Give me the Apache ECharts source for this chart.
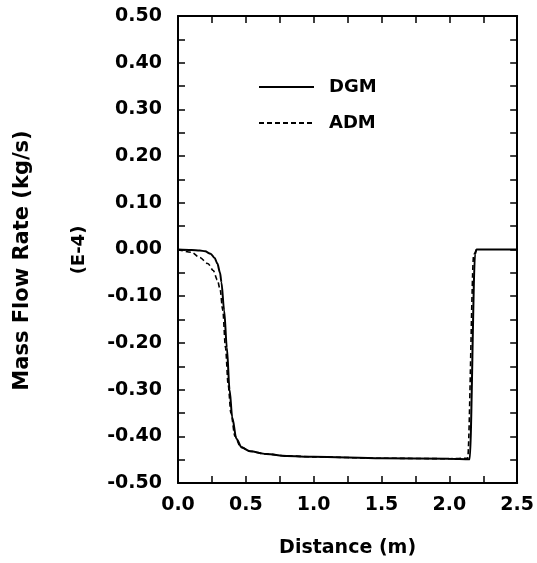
<!DOCTYPE html>
<html>
<head>
<meta charset="utf-8">
<script src="https://cdn.jsdelivr.net/npm/echarts@6/dist/echarts.min.js"></script>
<style>
  html, body { margin: 0; padding: 0; background: #fff; }
  #main { width: 537px; height: 563px; }
</style>
</head>
<body>
<div id="main"></div>
<script>
  // distance (m), mass flow rate (E-4 kg/s)
  var dgmX = [0, 0.1, 0.16, 0.2, 0.24, 0.27, 0.29, 0.31, 0.32, 0.34, 0.36, 0.38, 0.40, 0.43, 0.47, 0.53, 0.65, 0.8, 1.0, 1.5, 2.0, 2.15, 2.19, 2.2, 2.5]
  var dgmY = [0, -0.001, -0.002, -0.004, -0.009, -0.018, -0.03, -0.05, -0.07, -0.13, -0.21, -0.30, -0.36, -0.405, -0.424, -0.432, -0.438, -0.442, -0.444, -0.447, -0.448, -0.449, -0.01, 0, 0]
  var admX = [0, 0.1, 0.16, 0.22, 0.26, 0.29, 0.31, 0.33, 0.35, 0.37, 0.39, 0.42, 0.46, 0.53, 0.65, 0.8, 1.0, 1.5, 2.0, 2.135, 2.18, 2.2]
  var admY = [0, -0.006, -0.017, -0.03, -0.045, -0.065, -0.085, -0.13, -0.21, -0.29, -0.35, -0.40, -0.422, -0.432, -0.438, -0.442, -0.444, -0.447, -0.448, -0.447, -0.01, 0]
  var seriesNames = ['DGM', 'ADM']

  function pairs (xs, ys) {
    return xs.map(function (x, i) { return [x, ys[i]] })
  }

  var font = '"DejaVu Sans", Verdana, sans-serif'
  var axisLineStyle = { color: '#000', width: 2 }
  var tick = { show: true, inside: true, length: 7, lineStyle: { color: '#000', width: 1.5 } }
  var minor = { show: true, splitNumber: 2, length: 7, lineStyle: { color: '#000', width: 1.5 } }

  var chart = echarts.init(document.getElementById('main'))
  chart.setOption({
    animation: false,
    backgroundColor: '#fff',
    grid: { left: 178, right: 19, top: 16, bottom: 80, containLabel: false },
    legend: {
      orient: 'vertical',
      left: 253,
      top: 73,
      itemWidth: 55,
      itemHeight: 21,
      itemGap: 18,
      data: seriesNames,
      itemStyle: { color: 'transparent', borderColor: 'transparent', borderWidth: 0 },
      textStyle: { fontFamily: font, fontWeight: 'bold', fontSize: 18, color: '#000', padding: [0, 0, 8, 10] }
    },
    xAxis: [{
      type: 'value', min: 0, max: 2.5, interval: 0.5,
      name: 'Distance (m)', nameLocation: 'middle', nameGap: 56,
      nameTextStyle: { fontFamily: font, fontWeight: 'bold', fontSize: 19, color: '#000' },
      axisLine: { onZero: false, lineStyle: axisLineStyle },
      axisTick: tick, minorTick: minor,
      splitLine: { show: false },
      axisLabel: { margin: 13, fontFamily: font, fontWeight: 'bold', fontSize: 19, color: '#000',
        formatter: function (v) { return v.toFixed(1) } }
    }, {
      type: 'value', min: 0, max: 2.5, interval: 0.5, position: 'top',
      axisLine: { onZero: false, lineStyle: axisLineStyle },
      axisTick: tick, minorTick: minor,
      splitLine: { show: false }, axisLabel: { show: false }
    }],
    yAxis: [{
      type: 'value', min: -0.5, max: 0.5, interval: 0.1,
      name: 'Mass Flow Rate (kg/s)', nameLocation: 'middle', nameGap: 145, nameRotate: 90,
      nameTextStyle: { fontFamily: font, fontWeight: 'bold', fontSize: 21, color: '#000', padding: [0, 22, 0, 0] },
      axisLine: { onZero: false, lineStyle: axisLineStyle },
      axisTick: tick, minorTick: minor,
      splitLine: { show: false },
      axisLabel: { margin: 16, fontFamily: font, fontWeight: 'bold', fontSize: 19, color: '#000',
        formatter: function (v) { return v.toFixed(2) } }
    }, {
      type: 'value', min: -0.5, max: 0.5, interval: 0.1, position: 'right',
      axisLine: { onZero: false, lineStyle: axisLineStyle },
      axisTick: tick, minorTick: minor,
      splitLine: { show: false }, axisLabel: { show: false }
    }],
    graphic: [{
      type: 'text', x: 79, y: 250, rotation: Math.PI / 2,
      style: { text: '(E-4)', fontFamily: font, fontWeight: 'bold', fontSize: 18, fill: '#000',
        align: 'center', verticalAlign: 'middle' }
    }],
    series: [{
      name: seriesNames[0], type: 'line', symbol: 'none',
      smooth: 0.3, smoothMonotone: 'x',
      lineStyle: { color: '#000', width: 2, type: 'solid' },
      itemStyle: { color: '#000' },
      data: pairs(dgmX, dgmY)
    }, {
      name: seriesNames[1], type: 'line', symbol: 'none',
      smooth: 0.3, smoothMonotone: 'x',
      lineStyle: { color: '#000', width: 1.6, type: [5, 3] },
      itemStyle: { color: '#000' },
      data: pairs(admX, admY)
    }]
  })
</script>
</body>
</html>
